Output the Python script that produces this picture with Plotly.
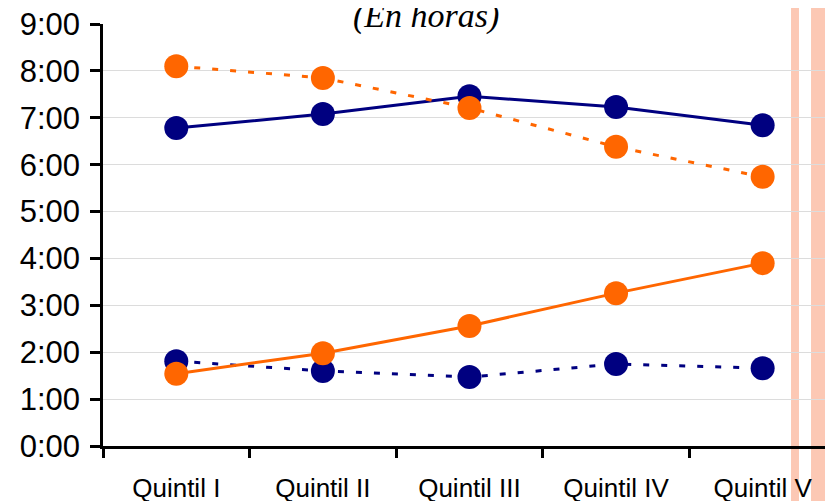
import plotly.graph_objects as go

categories = ["Quintil I", "Quintil II", "Quintil III", "Quintil IV", "Quintil V"]
navy_solid = [6.78, 7.08, 7.46, 7.23, 6.84]
navy_dotted = [1.81, 1.60, 1.47, 1.75, 1.66]
orange_solid = [1.54, 1.98, 2.56, 3.26, 3.90]
orange_dotted = [8.10, 7.85, 7.21, 6.38, 5.74]
tick_hours = [0, 1, 2, 3, 4, 5, 6, 7, 8, 9]
tick_labels = [f"{h}:00" for h in tick_hours]
title_text = "(En horas)"

NAVY = "#000080"
ORANGE = "#FF6600"

fig = go.Figure()

def add(vals, color, dash):
    fig.add_trace(go.Scatter(
        x=categories, y=vals, mode="lines+markers",
        line=dict(color=color, width=3, dash=dash),
        marker=dict(color=color, size=24),
        showlegend=False, cliponaxis=False,
    ))

add(navy_solid, NAVY, "solid")
add(navy_dotted, NAVY, "6px,12px")
add(orange_solid, ORANGE, "solid")
add(orange_dotted, ORANGE, "6px,12px")

# decorative bands at right edge
for x0, x1 in [(0.9425, 0.9534), (0.9699, 0.9932)]:
    fig.add_shape(type="rect", xref="paper", yref="paper", x0=x0, x1=x1,
                  y0=-0.2, y1=1.1, fillcolor="#FCC8B4", line_width=0, layer="below")
fig.add_shape(type="line", xref="paper", yref="paper", x0=0.9932, x1=0.9932,
              y0=-0.2, y1=1.1, line=dict(color="#FF8030", width=2), layer="below")

fig.add_annotation(text=title_text, xref="paper", yref="paper", x=0.4425, y=1.019,
                   xanchor="center", yanchor="middle", showarrow=False,
                   font=dict(family="Liberation Serif", size=34, color="black", style="italic"))

fig.update_layout(
    width=825, height=493,
    margin=dict(l=95, r=0, t=16, b=55, autoexpand=False),
    paper_bgcolor="white", plot_bgcolor="white",
    font=dict(family="Liberation Sans", color="black"),
    xaxis=dict(
        type="category", range=[-0.5, 4.48], tickson="boundaries",
        ticks="outside", ticklen=9, tickwidth=2.5, tickcolor="black",
        showline=True, linecolor="black", linewidth=2.5, showgrid=False,
        tickfont=dict(size=26), ticklabelstandoff=17, automargin=False,
        ticklabeloverflow="allow",
    ),
    yaxis=dict(
        range=[0, 9], tickvals=tick_hours, ticktext=tick_labels,
        ticks="outside", ticklen=10, tickwidth=2.5, tickcolor="black",
        showline=True, linecolor="black", linewidth=2.5,
        showgrid=True, gridcolor="#DCDCDC", gridwidth=1, zeroline=False,
        tickfont=dict(size=31), ticklabelstandoff=4, automargin=False,
        ticklabeloverflow="allow",
    ),
)

fig.write_html("out.html")
